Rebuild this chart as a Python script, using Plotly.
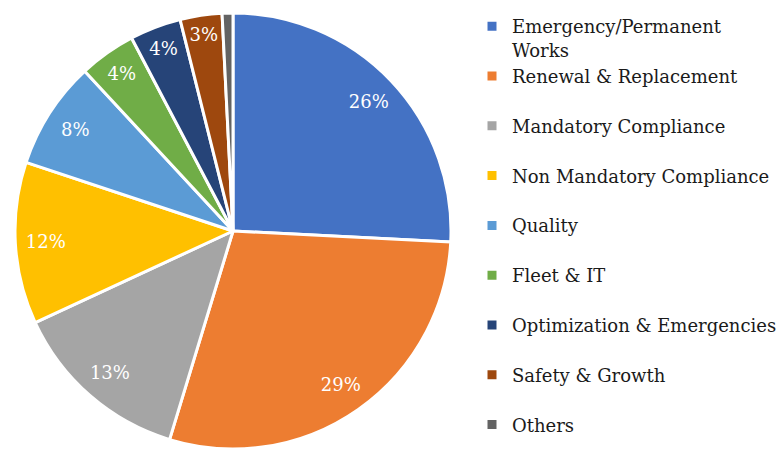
import plotly.graph_objects as go

# the page body adds an 8px margin, so the figure is a bit smaller than the window
W, H = 776, 441

categories = [
    "Emergency/Permanent<br>Works",
    "Renewal & Replacement<br> ",
    "Mandatory Compliance<br> ",
    "Non Mandatory Compliance<br> ",
    "Quality<br> ",
    "Fleet & IT<br> ",
    "Optimization & Emergencies<br> ",
    "Safety & Growth<br> ",
    "Others<br> ",
]
shares = [25.8, 28.9, 13.4, 12.0, 8.0, 4.2, 3.8, 3.1, 0.8]
colors = ["#4472C4", "#ED7D31", "#A5A5A5", "#FFC000", "#5B9BD5",
          "#70AD47", "#264478", "#9E480E", "#636363"]
templates = ["%{percent:.0%}"] * 8 + [""]

FONT = "DejaVu Serif"
pie_domain = dict(x=[7 / W, 443 / W], y=[0, 436 / H])

fig = go.Figure()
# coloured pie, no labels
fig.add_trace(
    go.Pie(
        labels=categories,
        values=shares,
        sort=False,
        direction="clockwise",
        marker=dict(colors=colors, line=dict(color="white", width=3)),
        textinfo="none",
        domain=pie_domain,
        hovertemplate="%{label}: %{percent:.1%}<extra></extra>",
    )
)
# transparent ring on top, only to carry the % labels near the rim
fig.add_trace(
    go.Pie(
        labels=categories,
        values=shares,
        sort=False,
        direction="clockwise",
        hole=0.72,
        marker=dict(colors=["rgba(0,0,0,0)"] * len(shares), line=dict(width=0)),
        texttemplate=templates,
        textposition="inside",
        insidetextorientation="horizontal",
        textfont=dict(family=FONT, size=18, color="white"),
        domain=pie_domain,
        showlegend=False,
        hoverinfo="skip",
    )
)
fig.update_layout(
    width=W,
    height=H,
    margin=dict(l=0, r=0, t=0, b=0),
    paper_bgcolor="white",
    font=dict(family=FONT, size=18, color="#1a1a1a"),
    legend=dict(
        x=464 / W, y=1.0, xanchor="left", yanchor="top",
        valign="top", bgcolor="rgba(0,0,0,0)",
        itemwidth=30, tracegroupgap=0,
    ),
)
fig.write_html("out.html")
